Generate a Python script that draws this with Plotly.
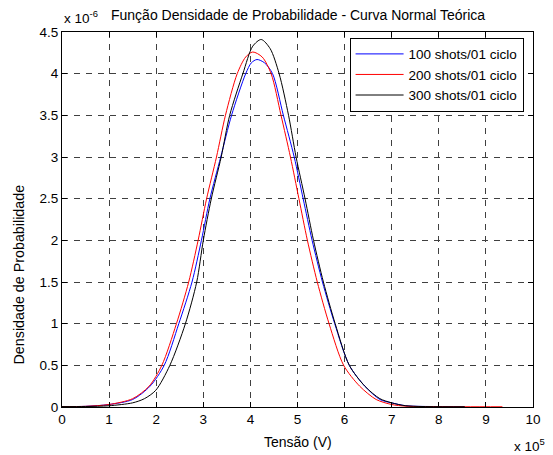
import numpy as np
import plotly.graph_objects as go

X_SCALE = 1e5
Y_SCALE = 1e-6

series_names = ["100 shots/01 ciclo", "200 shots/01 ciclo", "300 shots/01 ciclo"]
series_colors = ["#0000FF", "#FF0000", "#000000"]

# values in units of 1e5 V (x) and 1e-6 (y)
x_100 = [0.0, 0.5, 1.0, 1.5, 1.87, 2.17, 2.48, 2.76, 2.96, 3.14, 3.37, 3.60, 3.90, 4.02, 4.14, 4.30,
         4.47, 4.70, 4.93, 5.12, 5.31, 5.53, 5.79, 6.10, 6.43, 6.75, 7.0, 7.3, 8.0, 8.55]
y_100 = [0.005, 0.008, 0.03, 0.09, 0.25, 0.5, 1.0, 1.5, 2.0, 2.5, 3.0, 3.5, 4.0, 4.13, 4.17, 4.13,
         4.0, 3.5, 3.0, 2.5, 2.0, 1.5, 1.0, 0.5, 0.25, 0.09, 0.05, 0.015, 0.005, 0.003]

x_200 = [0.0, 0.5, 1.0, 1.5, 1.85, 2.12, 2.43, 2.69, 2.89, 3.07, 3.28, 3.47, 3.72, 3.90, 4.05, 4.25,
         4.44, 4.65, 4.85, 5.03, 5.21, 5.42, 5.67, 5.98, 6.32, 6.67, 7.0, 7.3, 8.0, 9.35]
y_200 = [0.005, 0.008, 0.03, 0.1, 0.25, 0.5, 1.0, 1.5, 2.0, 2.5, 3.0, 3.5, 4.0, 4.2, 4.26, 4.2,
         4.0, 3.5, 3.0, 2.5, 2.0, 1.5, 1.0, 0.5, 0.25, 0.09, 0.03, 0.01, 0.004, 0.003]

x_300 = [0.0, 0.5, 1.0, 1.5, 1.75, 1.99, 2.29, 2.62, 2.86, 3.0, 3.17, 3.38, 3.56, 3.84, 4.05, 4.23,
         4.42, 4.61, 4.81, 4.97, 5.16, 5.34, 5.55, 5.80, 6.10, 6.43, 6.75, 7.0, 7.3, 8.55]
y_300 = [0.005, 0.006, 0.015, 0.05, 0.1, 0.2, 0.5, 1.0, 1.5, 2.0, 2.5, 3.0, 3.5, 4.0, 4.33, 4.41,
         4.3, 4.0, 3.5, 3.0, 2.5, 2.0, 1.5, 1.0, 0.5, 0.25, 0.1, 0.05, 0.015, 0.003]

x_ticks = [0, 1, 2, 3, 4, 5, 6, 7, 8, 9, 10]
x_tick_labels = ["0", "1", "2", "3", "4", "5", "6", "7", "8", "9", "10"]
y_ticks = [0, 0.5, 1, 1.5, 2, 2.5, 3, 3.5, 4, 4.5]
y_tick_labels = ["0", "0.5", "1", "1.5", "2", "2.5", "3", "3.5", "4", "4.5"]

title_text = "Função Densidade de Probabilidade - Curva Normal Teórica"
x_title = "Tensão (V)"
y_title = "Densidade de Probabilidade"

FONT = "Liberation Sans, Arial, sans-serif"

fig = go.Figure()
for xs, ys, name, color in zip([x_100, x_200, x_300], [y_100, y_200, y_300], series_names, series_colors):
    fig.add_trace(go.Scatter(
        x=np.array(xs) * X_SCALE, y=np.array(ys) * Y_SCALE, mode="lines", name=name,
        line=dict(color=color, width=1, shape="spline", smoothing=0.8),
    ))

axis_common = dict(
    showline=True, linecolor="black", linewidth=1, mirror="ticks",
    ticks="inside", ticklen=5, tickcolor="black",
    showgrid=True, gridcolor="#404040", gridwidth=1, griddash="6px,6px",
    zeroline=False, tickfont=dict(family=FONT, size=13.5, color="black"),
)

fig.update_xaxes(range=[0, 10 * X_SCALE], tickvals=[v * X_SCALE for v in x_ticks], ticktext=x_tick_labels,
                 **axis_common)
fig.update_yaxes(range=[0, 4.5 * Y_SCALE], tickvals=[v * Y_SCALE for v in y_ticks], ticktext=y_tick_labels,
                 **axis_common)

fig.add_annotation(text=title_text, xref="paper", yref="paper", x=0.5, y=1.0, yshift=17,
                   xanchor="center", yanchor="middle", showarrow=False,
                   font=dict(family=FONT, size=14, color="black"))
fig.add_annotation(text="x 10<sup>-6</sup>", xref="paper", yref="paper", x=0.0, y=1.0, yshift=15,
                   xanchor="left", yanchor="middle", showarrow=False,
                   font=dict(family=FONT, size=13.5, color="black"))
fig.add_annotation(text="x 10<sup>5</sup>", xref="paper", yref="paper", x=1.0, y=0.0, yshift=-38, xshift=14,
                   xanchor="right", yanchor="middle", showarrow=False,
                   font=dict(family=FONT, size=13.5, color="black"))
fig.add_annotation(text=x_title, xref="paper", yref="paper", x=0.5, y=0.0, yshift=-35,
                   xanchor="center", yanchor="middle", showarrow=False,
                   font=dict(family=FONT, size=14, color="black"))
fig.add_annotation(text=y_title, xref="paper", yref="paper", x=0.0, xshift=-44, y=0.5, yshift=-55,
                   xanchor="center", yanchor="middle", textangle=-90, showarrow=False,
                   font=dict(family=FONT, size=14.3, color="black"))

fig.update_layout(
    width=553, height=455,
    margin=dict(l=62, r=14, t=32, b=48),
    paper_bgcolor="white", plot_bgcolor="white",
    showlegend=True,
    legend=dict(x=0.98, y=0.985, xanchor="right", yanchor="top",
                bgcolor="white", bordercolor="black", borderwidth=1, itemwidth=48,
                font=dict(family=FONT, size=13.5, color="black"), tracegroupgap=0),
)

fig.write_html("out.html", post_script="document.body.style.margin='0px';",
               config={"displayModeBar": False})
